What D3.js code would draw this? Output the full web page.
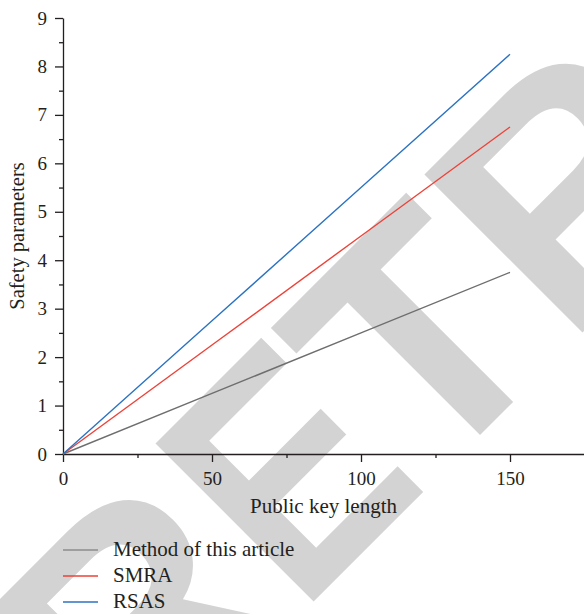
<!DOCTYPE html>
<html>
<head>
<meta charset="utf-8">
<script src="https://cdn.jsdelivr.net/npm/d3@7"></script>
<style>
  html, body { margin: 0; padding: 0; background: #fff; }
  svg { display: block; }
</style>
</head>
<body>
<script>
// ---- data ----
const xValues = [0, 50, 100, 150];
const methodValues = [0, 1.25, 2.5, 3.75];
const smraValues = [0, 2.25, 4.5, 6.75];
const rsasValues = [0, 2.75, 5.5, 8.25];
const seriesNames = ["Method of this article", "SMRA", "RSAS"];
const seriesColors = ["#6e6e6e", "#ec4238", "#2b73c2"];
const legendColors = ["#8c8c8c", "#ec4238", "#2b73c2"];
const xMajorTicks = [0, 50, 100, 150];
const xMinorTicks = [25, 75, 125, 175];
const yMajorTicks = [0, 1, 2, 3, 4, 5, 6, 7, 8, 9];
const yMinorTicks = [0.5, 1.5, 2.5, 3.5, 4.5, 5.5, 6.5, 7.5, 8.5];
const xTitle = "Public key length";
const yTitle = "Safety parameters";
const watermarkLetters = ["R", "E", "T", "R", "A", "C", "T", "E", "D"];

const SERIF = "'Liberation Serif', 'DejaVu Serif', serif";
const W = 584, H = 614;
const svg = d3.select("body").append("svg").attr("width", W).attr("height", H);

// watermark (behind chart): letters laid along a -45° baseline
const wmOffsets = [33, 273, 451, 650, 885, 1120, 1355, 1555, 1775];
const wmScales  = [1, 0.85, 1, 1, 1, 1, 1, 1, 1];
const wm = svg.append("g").attr("transform", "translate(107.5,807.6) rotate(-45)");
watermarkLetters.forEach((ch, i) => {
  wm.append("text")
    .attr("transform", `translate(${wmOffsets[i]},0) scale(${wmScales[i]},1)`)
    .style("font-family", "'Liberation Sans', Arial, sans-serif")
    .style("font-weight", "bold")
    .style("font-size", "325px")
    .style("fill", "#d3d3d3")
    .text(ch);
});

const x = d3.scaleLinear().domain([0, 175]).range([63, 584.5]);
const y = d3.scaleLinear().domain([0, 9]).range([454, 18]);

// x axis
svg.append("g").attr("transform", `translate(0,${y(0)})`)
  .call(d3.axisBottom(x).tickValues(xMajorTicks).tickSize(8).tickSizeOuter(0).tickPadding(10).tickFormat(d3.format("d")));
svg.append("g").attr("transform", `translate(0,${y(0)})`)
  .call(d3.axisBottom(x).tickValues(xMinorTicks).tickSize(4).tickSizeOuter(0).tickFormat(""))
  .select(".domain").remove();

// y axis
svg.append("g").attr("transform", `translate(${x(0)},0)`)
  .call(d3.axisLeft(y).tickValues(yMajorTicks).tickSize(8).tickSizeOuter(0).tickPadding(8).tickFormat(d3.format("d")));
svg.append("g").attr("transform", `translate(${x(0)},0)`)
  .call(d3.axisLeft(y).tickValues(yMinorTicks).tickSize(4).tickSizeOuter(0).tickFormat(""))
  .select(".domain").remove();

svg.selectAll(".domain, .tick line").attr("stroke", "#231f20").attr("stroke-width", 1.3);
svg.selectAll(".tick text")
  .style("font-family", SERIF).style("font-size", "19px").style("fill", "#231f20");

// titles
svg.append("text").attr("x", (x(0) + W) / 2).attr("y", 513)
  .attr("text-anchor", "middle")
  .style("font-family", SERIF).style("font-size", "21px").style("fill", "#231f20")
  .text(xTitle);
svg.append("text").attr("transform", `translate(24,${(y(0) + y(9)) / 2}) rotate(-90)`)
  .attr("text-anchor", "middle")
  .style("font-family", SERIF).style("font-size", "20.5px").style("fill", "#231f20")
  .text(yTitle);

// lines
const allSeries = [methodValues, smraValues, rsasValues];
const line = d3.line().x((d, i) => x(xValues[i])).y(d => y(d));
allSeries.forEach((vals, k) => {
  svg.append("path").datum(vals)
    .attr("d", line)
    .attr("fill", "none")
    .attr("stroke", seriesColors[k])
    .attr("stroke-width", 1.4);
});

// legend
const lg = svg.append("g");
seriesNames.forEach((name, k) => {
  const ly = 550 + k * 26;
  lg.append("line").attr("x1", 63).attr("x2", 98).attr("y1", ly).attr("y2", ly)
    .attr("stroke", legendColors[k]).attr("stroke-width", 1.4);
  lg.append("text").attr("x", 113).attr("y", ly + 6)
    .style("font-family", SERIF).style("font-size", "21px").style("fill", "#231f20")
    .text(name);
});
</script>
</body>
</html>
